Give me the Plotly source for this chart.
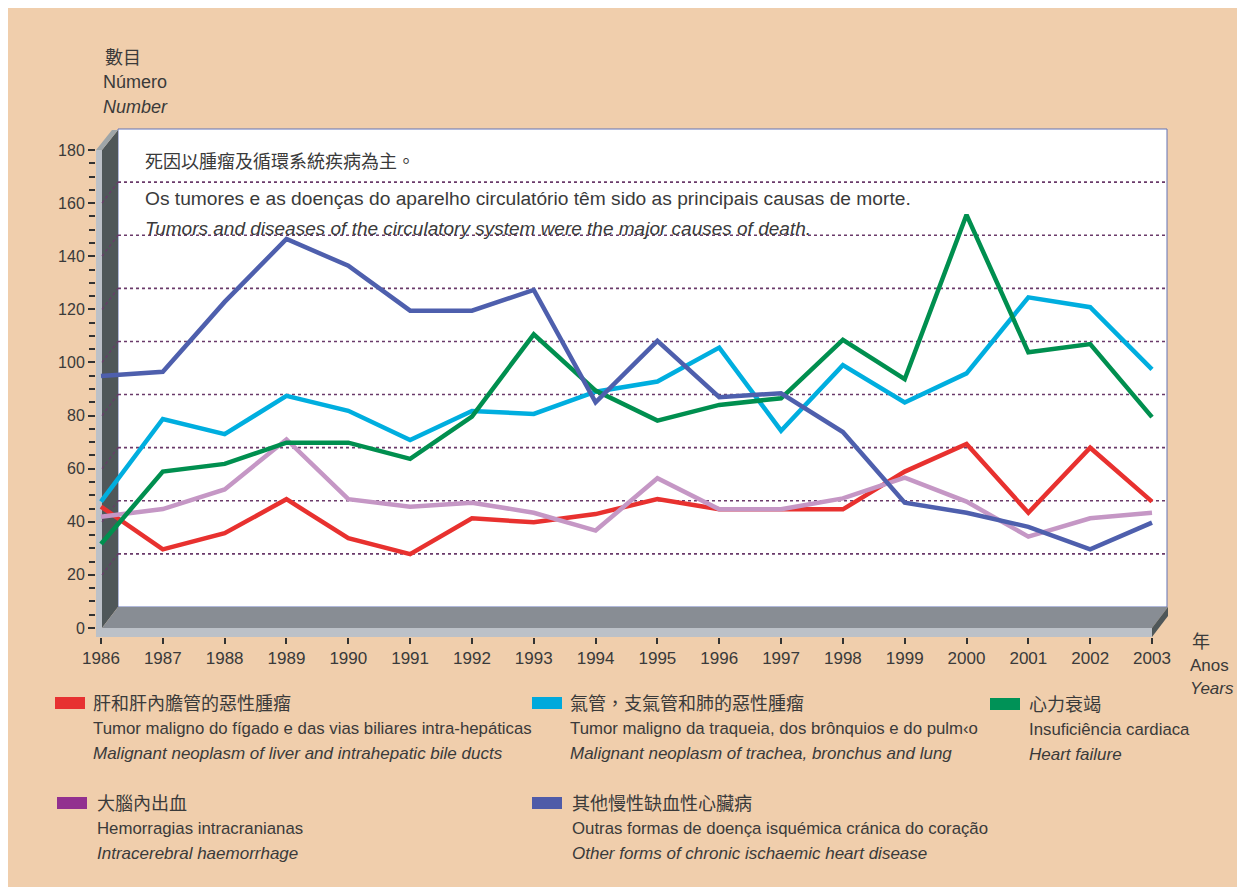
import plotly.graph_objects as go

# ---------------- data ----------------
years = list(range(1986, 2004))
year_labels = [str(y) for y in years]
y_ticks = list(range(0, 181, 20))

liver = [45.7, 29.6, 35.7, 48.5, 33.8, 27.8, 41.3, 39.8, 42.9, 48.6, 44.7, 44.7, 44.7, 58.9, 69.3, 43.4, 67.9, 47.6]
lung = [47.6, 78.7, 73.0, 87.4, 81.8, 70.8, 81.7, 80.6, 89.0, 92.8, 105.6, 74.3, 99.0, 84.9, 95.9, 124.5, 120.8, 97.4]
heart_failure = [31.6, 58.9, 61.8, 69.8, 69.8, 63.7, 79.6, 110.6, 89.4, 78.1, 84.0, 86.5, 108.5, 93.7, 155.6, 103.8, 106.9, 79.4]
haemorrhage = [41.9, 44.8, 52.2, 71.0, 48.5, 45.7, 47.2, 43.4, 36.7, 56.4, 44.7, 44.7, 48.8, 56.6, 47.6, 34.4, 41.3, 43.4]
ischaemic = [94.9, 96.5, 122.8, 146.5, 136.4, 119.5, 119.5, 127.3, 85.0, 108.1, 86.9, 88.4, 73.8, 47.2, 43.4, 38.1, 29.6, 39.7]

series_names = [
    ("肝和肝內膽管的惡性腫瘤", "Tumor maligno do fígado e das vias biliares intra-hepáticas",
     "Malignant neoplasm of liver and intrahepatic bile ducts"),
    ("氣管，支氣管和肺的惡性腫瘤", "Tumor maligno da traqueia, dos brônquios e do pulm‹o",
     "Malignant neoplasm of trachea, bronchus and lung"),
    ("心力衰竭", "Insuficiência cardiaca", "Heart failure"),
    ("大腦內出血", "Hemorragias intracranianas", "Intracerebral haemorrhage"),
    ("其他慢性缺血性心臟病", "Outras formas de doença isquémica cránica do coração",
     "Other forms of chronic ischaemic heart disease"),
]

title_zh = "死因以腫瘤及循環系統疾病為主。"
title_pt = "Os tumores e as doenças do aparelho circulatório têm sido as principais causas de morte."
title_en = "Tumors and diseases of the circulatory system were the major causes of death."

# ---------------- styles ----------------
BG = "#F0CEAC"
TXT = "#3A3A3A"
LINE_COLORS = ["#E8312F", "#00AEDF", "#008F4F", "#C597C5", "#4E5FAD"]
SWATCH_COLORS = ["#E73131", "#00A9DC", "#009257", "#92308F", "#4F5BA8"]
WALL_DARK = "#4F5759"
FLOOR = "#888D94"
STRIP = "#BCC1C8"
CAP = "#9EA5A8"
GRID = "#6A3A6A"
LATIN = "Liberation Sans, Arial, sans-serif"
NARROW = "Liberation Sans Narrow, Arial Narrow, Liberation Sans, sans-serif"
CJK = "Noto Sans CJK TC, Noto Sans CJK SC, sans-serif"

W, H = 1245, 887
OFF = 8  # page body margin
# plot area in screen pixels
L_s, R_s, T_s, B_s = 96, 1168, 130, 637
X_FIRST, X_LAST = 101, 1152   # screen x of first / last year
Y0_PX, Y180_PX = 628, 150     # screen y of value 0 / 180
DX, DY = 16, 21               # depth offset

ppy = (X_LAST - X_FIRST) / (years[-1] - years[0])
ppu = (Y0_PX - Y180_PX) / 180.0
xr = [years[0] - (X_FIRST - L_s) / ppy, years[-1] + (R_s - X_LAST) / ppy]
yr = [-(B_s - Y0_PX) / ppu, (Y0_PX - T_s) / ppu]


def xp(px):
    return (px - L_s) / (R_s - L_s)


def yp(py):
    return (B_s - py) / (B_s - T_s)


def ypx(v):
    return Y0_PX - v * ppu


def poly(pts):
    d = "M " + " L ".join(f"{xp(a):.5f},{yp(b):.5f}" for a, b in pts) + " Z"
    return d


fig = go.Figure()

order = [0, 3, 1, 2, 4]
series = [liver, lung, heart_failure, haemorrhage, ischaemic]
for i in order:
    fig.add_trace(go.Scatter(
        x=years, y=series[i], mode="lines",
        line=dict(color=LINE_COLORS[i], width=4.5),
        name=series_names[i][2], showlegend=False, hoverinfo="x+y+name"))

shapes = []
# back wall
shapes.append(dict(type="rect", xref="paper", yref="paper",
                   x0=xp(X_FIRST + DX + 1), x1=xp(X_LAST + DX - 1), y0=yp(Y0_PX - DY), y1=yp(Y180_PX - DY + 0),
                   fillcolor="white", line=dict(color="#6372B5", width=1), layer="below"))
# left wall
shapes.append(dict(type="path", xref="paper", yref="paper", layer="below",
                   path=poly([(X_FIRST + 1, Y180_PX), (X_FIRST + DX + 1, Y180_PX - DY + 1),
                              (X_FIRST + DX + 1, Y0_PX - DY), (X_FIRST + 1, Y0_PX)]),
                   fillcolor=WALL_DARK, line=dict(width=0)))
# floor
shapes.append(dict(type="path", xref="paper", yref="paper", layer="below",
                   path=poly([(X_FIRST + 1, Y0_PX), (X_FIRST + DX + 1, Y0_PX - DY),
                              (X_LAST + DX, Y0_PX - DY), (X_LAST, Y0_PX)]),
                   fillcolor=FLOOR, line=dict(width=0)))
# front strips
shapes.append(dict(type="rect", xref="paper", yref="paper", layer="below",
                   x0=xp(L_s), x1=xp(X_FIRST + 1), y0=yp(B_s), y1=yp(Y180_PX),
                   fillcolor=STRIP, line=dict(width=0)))
shapes.append(dict(type="rect", xref="paper", yref="paper", layer="below",
                   x0=xp(L_s), x1=xp(X_LAST), y0=yp(B_s), y1=yp(Y0_PX),
                   fillcolor=STRIP, line=dict(width=0)))
# top cap of left strip
shapes.append(dict(type="path", xref="paper", yref="paper", layer="below",
                   path=poly([(L_s, Y180_PX), (X_FIRST + 1, Y180_PX),
                              (X_FIRST + DX + 1, Y180_PX - DY + 1), (L_s + DX, Y180_PX - DY + 1)]),
                   fillcolor=CAP, line=dict(width=0)))
# right end of floor
shapes.append(dict(type="path", xref="paper", yref="paper", layer="below",
                   path=poly([(X_LAST, Y0_PX), (X_LAST + DX, Y0_PX - DY),
                              (X_LAST + DX, B_s - DY), (X_LAST, B_s)]),
                   fillcolor=WALL_DARK, line=dict(width=0)))
# dotted gridlines on back wall + left wall
for v in y_ticks[1:-1]:
    yf = ypx(v)
    yb = yf - DY
    shapes.append(dict(type="line", xref="paper", yref="paper", layer="below",
                       x0=xp(X_FIRST + DX + 1), x1=xp(X_LAST + DX - 1), y0=yp(yb), y1=yp(yb),
                       line=dict(color=GRID, width=1.6, dash="dot")))
    shapes.append(dict(type="line", xref="paper", yref="paper", layer="below",
                       x0=xp(X_FIRST + 1), x1=xp(X_FIRST + DX + 1), y0=yp(yf), y1=yp(yb),
                       line=dict(color=GRID, width=1.2, dash="dot")))

annotations = []


def text(x, y, s, size, font=LATIN, italic=False, color=TXT):
    annotations.append(dict(xref="paper", yref="paper", x=xp(x), y=yp(y), text=s,
                            showarrow=False, xanchor="left", yanchor="middle",
                            font=dict(family=font, size=size, color=color,
                                      style="italic" if italic else "normal")))


# axis titles
text(103, 56, "數目", 18, CJK)
text(101, 82, "Número", 18)
text(101, 107, "Number", 18, italic=True)
text(1190, 640, "年", 18, CJK)
text(1188, 665, "Anos", 17)
text(1188, 688, "Years", 17, italic=True)

# chart message
text(143, 160, title_zh, 18, CJK)
text(143, 198, title_pt, 19.2)
text(143, 228, title_en, 19)

# legend
legend_pos = [(55, 703, 91), (532, 703, 568), (990, 704, 1027), (57, 803, 95), (532, 803, 570)]
for i, (sx, sy, tx) in enumerate(legend_pos):
    shapes.append(dict(type="rect", xref="paper", yref="paper", layer="above",
                       x0=xp(sx), x1=xp(sx + 30), y0=yp(sy + 6), y1=yp(sy - 6),
                       fillcolor=SWATCH_COLORS[i], line=dict(width=0)))
    zh, pt, en = series_names[i]
    text(tx, sy - 1, zh, 18, CJK)
    text(tx, sy + 25, pt, 16.8)
    text(tx, sy + 50, en, 17, italic=True)

# italic fix for english title
annotations[-0 + 8]["font"]["style"] = "italic"

fig.update_layout(
    width=W, height=H, autosize=False,
    paper_bgcolor=BG, plot_bgcolor="rgba(0,0,0,0)",
    margin=dict(l=L_s - OFF, r=W - (R_s - OFF), t=T_s - OFF, b=H - (B_s - OFF), pad=0),
    shapes=shapes, annotations=annotations, showlegend=False,
    xaxis=dict(range=xr, tickmode="array", tickvals=years, ticktext=year_labels,
               ticks="outside", ticklen=6, tickwidth=1.5, tickcolor="#333",
               showgrid=False, zeroline=False, showline=False, fixedrange=True,
               tickfont=dict(family=NARROW, size=17, color=TXT)),
    yaxis=dict(range=yr, tickmode="array", tickvals=y_ticks,
               ticks="outside", ticklen=7, tickwidth=1.5, tickcolor="#333",
               minor=dict(tickvals=list(range(0, 181, 5)), ticks="outside", ticklen=6,
                          tickwidth=1.5, tickcolor="#333", showgrid=False),
               showgrid=False, zeroline=False, showline=False, fixedrange=True,
               tickfont=dict(family=NARROW, size=16, color=TXT)),
)

fig.write_html("out.html")
